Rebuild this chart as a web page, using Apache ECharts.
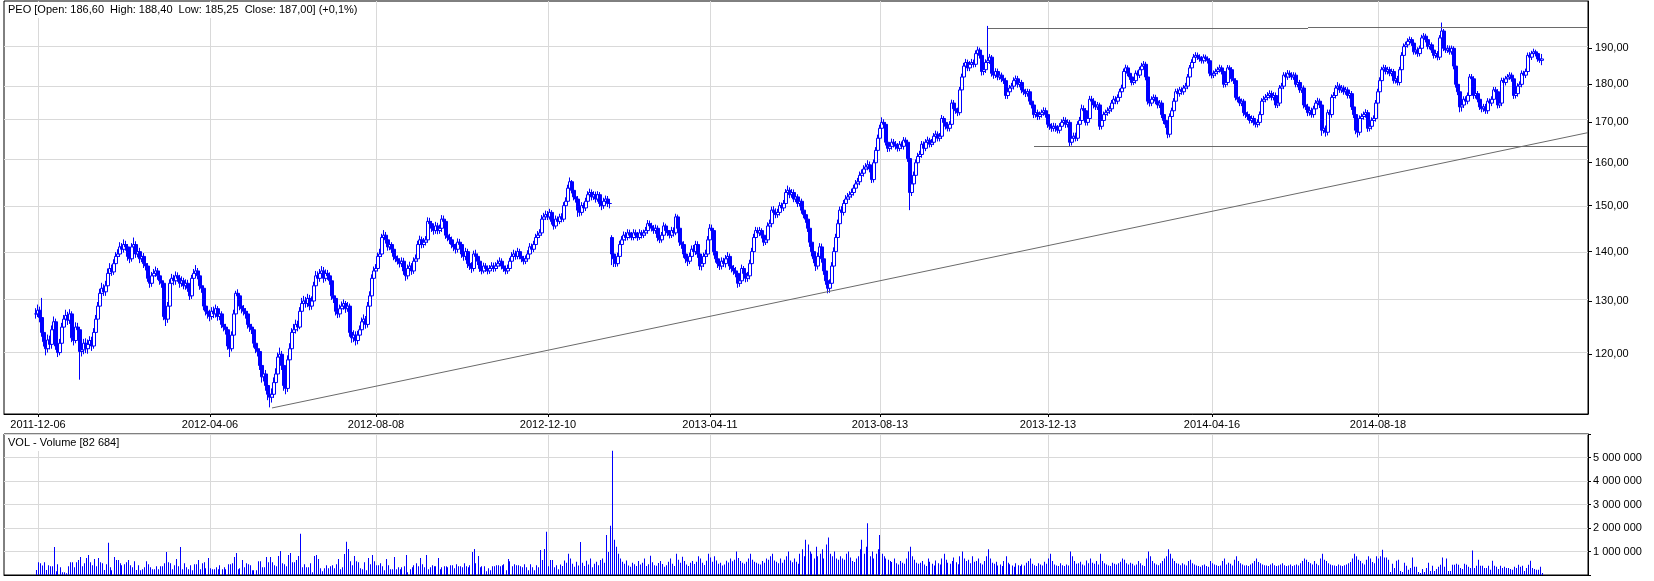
<!DOCTYPE html>
<html>
<head>
<meta charset="utf-8">
<script src="https://cdn.jsdelivr.net/npm/echarts@6/dist/echarts.min.js"></script>
<style>
  html, body { margin: 0; padding: 0; background: #fff; }
  #chart { width: 1654px; height: 581px; }
</style>
</head>
<body>
<div id="chart"></div>
<script>
// x axis: one slot per trading day, plus empty slots at both ends
const slotCount = 793;
const firstIndex = 16;
const tickIndex = [17, 103, 186, 272, 353, 438, 522, 604, 687];
const tickLabels = ['2011-12-06', '2012-04-06', '2012-08-08', '2012-12-10', '2013-04-11',
                    '2013-08-13', '2013-12-13', '2014-04-16', '2014-08-18'];

// price axis (log scale) and volume axis
const priceMin = 109.7;
const priceMax = 204.0;
const priceTicks = [120, 130, 140, 150, 160, 170, 180, 190];
const volumeMax = 6000000;

// daily closes (first day at firstIndex)
const closes = [
  127.5, 128.2, 126.8, 124.0, 122.3, 121.0, 122.6, 121.8, 124.5, 126.0,
  121.5, 120.3, 122.0, 125.0, 126.5, 127.2, 126.3, 127.5, 123.0, 122.5,
  125.0, 124.5, 120.5, 120.8, 122.0, 121.0, 121.8, 122.5, 121.5, 124.0,
  126.5, 129.0, 131.5, 132.5, 131.8, 133.0, 135.5, 136.5, 135.8, 137.5,
  139.0, 139.5, 141.0, 140.5, 141.5, 141.0, 139.0, 138.5, 141.0, 141.5,
  139.5, 140.0, 138.5, 139.0, 137.5, 137.0, 134.5, 133.5, 135.0, 135.5,
  136.0, 135.0, 134.0, 133.5, 127.0, 126.5, 129.0, 133.5, 134.5, 134.0,
  135.0, 134.5, 133.5, 134.0, 133.0, 133.5, 132.5, 131.0, 134.5, 135.5,
  136.0, 135.0, 133.0, 132.5, 129.0, 128.0, 127.5, 127.0, 128.0, 127.5,
  128.5, 127.0, 127.5, 125.5, 125.0, 124.5, 121.5, 121.0, 123.5, 127.5,
  131.5, 131.0, 129.0, 128.5, 128.0, 127.5, 125.5, 125.0, 124.5, 122.0,
  121.0, 120.5, 118.0, 116.0, 116.5, 114.5, 113.0, 112.5, 113.0, 115.0,
  116.5, 119.5, 120.0, 118.0, 114.5, 114.0, 119.0, 121.0, 124.0, 124.5,
  125.5, 125.0, 128.0, 129.5, 130.0, 129.5, 130.5, 129.0, 130.0, 133.0,
  135.0, 134.5, 135.5, 136.0, 134.5, 135.5, 135.0, 134.0, 131.0, 130.5,
  128.0, 127.5, 128.5, 129.0, 129.5, 128.5, 129.0, 124.0, 123.0, 123.5,
  122.5, 123.5, 124.5, 126.0, 126.5, 125.5, 129.0, 131.0, 134.5, 136.0,
  136.5, 139.0, 139.5, 143.0, 143.5, 142.5, 141.0, 141.5, 140.5, 139.0,
  138.5, 138.0, 137.5, 138.0, 136.0, 135.0, 136.5, 137.0, 136.0, 138.0,
  138.5, 141.5, 142.5, 141.5, 142.0, 142.5, 146.5, 146.0, 145.0, 144.5,
  145.5, 144.5, 145.0, 147.0, 146.5, 143.5, 143.0, 142.5, 141.5, 141.0,
  140.5, 142.0, 141.5, 139.5, 139.0, 140.0, 137.5, 137.0, 136.5, 139.5,
  139.0, 138.0, 136.5, 136.0, 137.0, 136.5, 136.0, 136.5, 137.0, 136.5,
  137.0, 137.5, 138.0, 137.0, 136.5, 136.0, 136.5, 138.0, 139.0, 139.5,
  139.0, 140.0, 139.0, 138.5, 138.0, 138.5, 139.5, 141.0, 140.5, 141.5,
  143.0, 143.5, 144.0, 147.0, 147.5, 148.0, 147.5, 148.5, 146.5, 145.5,
  147.0, 146.5, 147.5, 147.0, 150.0, 151.0, 154.0, 155.5, 153.5, 152.0,
  151.5, 149.0, 148.5, 150.0, 149.5, 151.0, 152.5, 153.0, 152.0, 152.5,
  151.5, 152.5, 150.5, 150.0, 151.0, 151.5, 150.5, 150.5, 139.5, 138.5,
  137.5, 139.0, 141.5, 142.5, 143.5, 143.0, 144.0, 143.5, 143.0, 144.0,
  143.5, 143.0, 144.0, 143.5, 144.0, 144.5, 146.0, 145.5, 145.0, 144.5,
  145.0, 143.0, 142.5, 143.5, 145.5, 144.5, 144.0, 143.5, 144.5, 144.0,
  147.5, 145.0, 142.0, 141.5, 139.5, 138.5, 138.0, 139.0, 140.5, 140.0,
  141.5, 139.5, 137.0, 137.5, 139.0, 139.5, 142.5, 145.0, 144.5, 140.0,
  138.5, 137.5, 137.0, 138.0, 137.5, 138.5, 139.0, 137.0, 136.5, 136.0,
  135.5, 133.5, 134.0, 136.5, 135.5, 134.5, 135.0, 137.5, 140.0, 143.0,
  144.5, 144.0, 144.5, 143.5, 142.0, 142.5, 145.5, 146.0, 149.0, 148.5,
  148.0, 148.5, 150.0, 149.5, 150.5, 153.0, 153.5, 152.5, 153.0, 151.5,
  152.0, 150.5, 151.0, 149.0, 148.0, 147.0, 145.0, 142.0, 140.0, 138.5,
  137.0, 139.0, 141.0, 138.5, 136.0, 134.0, 132.5, 133.5, 137.0, 140.0,
  143.0, 146.0, 149.0, 148.5, 150.5, 151.5, 152.0, 152.5, 153.0, 154.0,
  155.0, 155.5, 157.0, 157.5, 158.5, 159.0, 159.5, 158.5, 156.0, 160.0,
  163.0, 166.0, 168.5, 170.0, 169.5, 165.0, 163.5, 164.0, 165.0, 164.5,
  164.0, 163.5, 164.5, 164.0, 165.5, 165.0, 161.0, 153.0, 155.0, 157.0,
  160.0, 161.5, 162.0, 164.5, 163.5, 165.0, 165.5, 164.5, 165.0, 166.5,
  167.0, 166.0, 166.5, 171.0, 170.0, 169.0, 168.5, 169.5, 175.0, 173.5,
  173.0, 172.5, 178.5, 182.0, 185.0, 186.0, 184.5, 185.5, 186.0, 185.5,
  188.5, 189.5, 188.0, 183.5, 184.0, 186.0, 186.5, 187.5, 183.0, 182.5,
  183.5, 182.0, 182.5, 181.5, 181.0, 177.0, 178.0, 179.0, 179.5, 181.0,
  181.5, 180.0, 180.5, 178.5, 178.0, 177.5, 178.0, 175.5, 174.5, 172.0,
  172.5, 171.5, 172.0, 172.5, 173.0, 172.0, 169.5, 169.0, 168.5, 169.0,
  168.5, 168.0, 169.0, 170.0, 170.5, 169.5, 170.0, 165.0, 166.0, 166.5,
  166.0, 169.5, 170.5, 173.5, 173.0, 170.0, 171.0, 176.0, 175.5, 174.5,
  174.0, 174.5, 169.0, 170.5, 172.0, 172.5, 173.0, 173.5, 175.0, 176.0,
  175.5, 176.5, 178.0, 179.0, 183.5, 184.5, 183.0, 182.0, 180.5, 181.0,
  183.0, 182.5, 184.0, 185.0, 185.5, 182.0, 175.5, 175.0, 176.0, 176.5,
  175.5, 174.5, 175.0, 172.0, 170.5, 169.5, 167.0, 171.5, 173.0, 175.5,
  178.0, 177.5, 178.5, 178.0, 179.0, 179.5, 182.0, 184.5, 186.0, 187.5,
  188.0, 187.5, 187.0, 186.5, 187.5, 187.0, 186.5, 183.0, 182.5, 183.0,
  183.5, 184.0, 184.5, 183.5, 180.0, 180.5, 184.5, 184.0, 181.5, 181.0,
  176.5, 176.0, 175.0, 175.5, 172.5, 172.0, 171.5, 170.5, 171.0, 170.0,
  169.5, 170.0, 172.0, 175.5, 176.0, 176.5, 177.0, 177.5, 176.5, 177.0,
  174.5, 175.0, 179.0, 179.5, 182.5, 182.0, 183.0, 182.5, 182.0, 182.5,
  180.0, 180.5, 178.5, 179.0, 174.5, 174.0, 172.5, 173.0, 172.0, 173.5,
  175.0, 175.5, 174.5, 168.0, 168.5, 167.5, 172.5, 172.0, 176.5, 177.0,
  179.0, 179.5, 178.5, 179.0, 178.0, 178.5, 177.0, 177.5, 174.0, 172.0,
  168.0, 167.5, 171.0, 171.5, 172.0, 172.5, 168.5, 169.0, 170.5, 171.0,
  175.0, 178.0, 181.0, 184.0, 184.5, 183.5, 184.0, 183.0, 183.5, 181.0,
  181.5, 180.5, 184.0, 188.0, 190.5, 191.0, 192.0, 192.5, 191.5, 189.0,
  189.5, 188.5, 190.0, 193.0, 193.5, 192.5, 190.5, 191.0, 189.5, 188.0,
  188.5, 187.5, 193.0, 195.0, 190.0, 189.5, 190.0, 189.0, 190.0, 185.0,
  180.0, 178.0, 174.0, 174.5, 176.0, 175.5, 177.0, 182.0, 181.5, 177.0,
  177.5, 176.0, 174.0, 173.5, 174.0, 173.0, 175.5, 175.0, 176.0, 178.5,
  178.0, 174.5, 175.0, 181.0, 180.5, 181.5, 182.0, 182.5, 181.5, 177.0,
  177.5, 179.5, 180.0, 183.0, 182.5, 183.5, 188.0, 187.5, 188.5, 189.0,
  188.5, 187.0, 186.6, 187.0
];

// daily highs and lows
const highs = [
  128.6, 129.3, 128.9, 130.6, 124.8, 123.2, 123.6, 123.4, 125.3, 127.0,
  126.6, 122.4, 122.8, 125.8, 127.3, 128.3, 127.9, 128.4, 128.0, 124.0,
  125.9, 125.8, 125.0, 121.7, 122.8, 122.9, 122.7, 123.3, 123.2, 124.8,
  127.3, 129.8, 132.4, 133.6, 133.3, 134.0, 136.5, 137.6, 137.3, 138.4,
  139.9, 140.5, 142.0, 141.8, 142.6, 142.3, 141.6, 139.6, 141.8, 143.0,
  142.2, 140.9, 140.8, 139.8, 139.7, 138.4, 137.6, 135.3, 135.8, 136.4,
  136.9, 136.6, 135.8, 134.8, 134.0, 128.0, 129.8, 134.3, 135.4, 135.2,
  135.9, 135.7, 135.2, 134.9, 134.6, 134.3, 134.2, 133.0, 135.2, 136.4,
  137.2, 136.6, 135.6, 133.7, 133.0, 129.8, 128.9, 128.3, 128.8, 128.9,
  129.3, 129.0, 128.2, 128.0, 126.3, 125.6, 125.0, 122.2, 124.2, 128.3,
  132.0, 132.3, 131.4, 129.6, 129.2, 128.6, 128.0, 126.2, 125.6, 124.9,
  122.6, 121.8, 121.0, 118.6, 117.4, 117.2, 115.2, 113.8, 114.0, 115.9,
  117.5, 120.3, 121.2, 120.6, 118.6, 115.2, 119.8, 122.0, 124.8, 125.6,
  126.4, 126.2, 128.8, 130.6, 131.0, 130.8, 131.4, 131.2, 130.9, 133.8,
  136.0, 135.9, 136.4, 137.0, 136.8, 136.3, 136.2, 135.7, 134.6, 131.8,
  131.0, 128.8, 129.3, 129.9, 130.3, 130.0, 129.8, 129.5, 124.8, 124.4,
  124.2, 124.3, 125.3, 126.8, 127.4, 127.1, 129.8, 131.9, 135.3, 136.9,
  137.4, 139.8, 140.6, 143.8, 144.6, 144.2, 142.9, 142.4, 142.0, 141.2,
  139.7, 139.2, 138.6, 138.8, 138.7, 136.8, 137.3, 137.9, 137.6, 138.8,
  139.4, 142.3, 143.4, 143.2, 142.9, 143.3, 147.4, 147.3, 146.6, 145.8,
  146.4, 146.2, 145.8, 147.9, 147.8, 147.0, 144.2, 143.8, 143.2, 142.2,
  141.7, 142.8, 142.7, 141.9, 140.2, 140.8, 140.6, 138.3, 137.8, 140.2,
  140.4, 139.6, 138.6, 137.2, 137.7, 137.6, 137.1, 137.2, 137.8, 137.7,
  137.8, 138.3, 138.8, 138.6, 137.6, 137.1, 137.3, 138.7, 139.9, 140.4,
  140.2, 140.8, 140.6, 139.6, 139.1, 139.2, 140.3, 141.8, 141.7, 142.3,
  143.8, 144.4, 144.8, 147.9, 148.4, 148.9, 148.8, 149.3, 149.0, 147.0,
  147.8, 147.6, 148.2, 148.3, 150.8, 151.9, 154.8, 156.5, 155.9, 154.2,
  152.8, 152.2, 149.8, 150.8, 150.7, 151.8, 153.3, 153.9, 153.7, 153.3,
  153.2, 153.3, 153.1, 151.2, 151.8, 152.3, 152.2, 151.4, 143.5, 140.4,
  139.2, 139.8, 142.3, 143.3, 144.3, 144.2, 144.8, 144.7, 144.2, 144.8,
  144.7, 144.2, 144.8, 144.6, 144.7, 145.3, 146.8, 146.7, 146.2, 145.7,
  145.8, 145.6, 143.7, 144.2, 146.3, 146.0, 145.2, 144.6, 145.3, 145.2,
  148.2, 148.0, 145.6, 142.7, 142.2, 140.2, 139.3, 139.8, 141.3, 141.4,
  142.3, 142.2, 140.0, 138.3, 139.8, 140.4, 143.3, 145.9, 145.8, 145.0,
  140.8, 139.3, 138.3, 138.8, 138.7, 139.3, 139.9, 139.6, 137.7, 137.2,
  136.8, 136.0, 134.8, 137.3, 137.0, 136.2, 135.8, 138.3, 140.8, 143.8,
  145.3, 145.2, 145.3, 145.0, 144.0, 143.3, 146.3, 146.9, 149.8, 149.9,
  149.4, 149.3, 150.8, 150.7, 151.3, 153.8, 154.6, 154.2, 153.8, 153.7,
  152.8, 152.6, 151.8, 151.6, 149.7, 148.8, 147.7, 145.6, 142.8, 140.8,
  139.3, 139.8, 141.8, 141.7, 139.2, 136.8, 134.7, 134.3, 137.8, 140.9,
  143.8, 146.9, 149.8, 149.9, 151.3, 152.4, 152.9, 153.3, 153.9, 154.8,
  155.9, 156.4, 157.9, 158.4, 159.4, 159.9, 160.6, 160.3, 159.2, 160.8,
  163.8, 166.9, 169.4, 171.3, 170.8, 170.0, 165.8, 164.9, 165.9, 165.8,
  165.3, 164.8, 165.3, 165.2, 166.3, 166.2, 165.6, 161.8, 156.0, 157.9,
  160.8, 162.4, 162.9, 165.3, 165.2, 165.8, 166.4, 166.1, 165.8, 167.3,
  167.9, 167.7, 167.3, 171.9, 171.6, 170.8, 169.7, 170.3, 175.9, 175.8,
  174.4, 173.8, 179.3, 182.9, 185.9, 187.0, 186.8, 186.4, 187.0, 186.8,
  189.4, 190.5, 190.2, 188.7, 184.9, 186.9, 196.5, 188.4, 188.1, 183.8,
  184.4, 184.3, 183.3, 183.2, 182.3, 181.8, 178.9, 179.8, 180.4, 181.9,
  182.4, 182.3, 181.3, 181.2, 179.3, 178.8, 178.8, 178.7, 176.3, 175.2,
  173.4, 173.3, 172.8, 173.3, 173.9, 173.8, 172.7, 170.2, 169.8, 169.9,
  169.8, 169.3, 169.8, 170.8, 171.4, 171.3, 170.8, 170.6, 166.8, 167.4,
  167.4, 170.3, 171.4, 174.6, 174.4, 173.7, 171.8, 176.9, 176.9, 176.3,
  175.3, 175.3, 175.1, 171.3, 172.8, 173.3, 173.9, 174.3, 175.8, 176.9,
  176.8, 177.3, 178.8, 179.9, 184.3, 185.4, 185.2, 183.7, 182.7, 181.8,
  183.8, 183.8, 184.8, 185.9, 186.4, 186.2, 182.6, 176.3, 176.8, 177.3,
  177.2, 176.3, 175.8, 175.7, 172.8, 171.3, 170.2, 172.3, 173.8, 176.3,
  178.8, 178.9, 179.3, 179.2, 179.8, 180.4, 182.8, 185.3, 186.9, 188.4,
  188.9, 188.8, 188.3, 187.8, 188.3, 188.2, 187.7, 187.2, 183.8, 183.8,
  184.3, 184.8, 185.4, 185.2, 184.2, 181.3, 185.3, 185.2, 184.7, 182.3,
  181.6, 177.3, 176.8, 176.2, 176.1, 173.3, 172.8, 172.2, 171.8, 171.7,
  170.7, 170.8, 172.8, 176.3, 176.9, 177.4, 177.9, 178.4, 178.3, 177.9,
  177.8, 175.8, 179.8, 180.4, 183.3, 183.3, 183.9, 183.8, 183.3, 183.3,
  183.2, 181.3, 181.2, 179.8, 179.7, 175.3, 174.8, 173.8, 173.8, 174.3,
  175.8, 176.4, 176.2, 175.0, 169.3, 169.2, 173.3, 173.3, 177.3, 177.9,
  179.8, 180.6, 180.2, 179.8, 179.7, 179.3, 179.2, 178.3, 178.2, 174.7,
  172.7, 168.8, 171.8, 172.3, 172.8, 173.4, 173.2, 169.8, 171.3, 171.8,
  175.8, 178.8, 181.9, 184.8, 185.4, 185.3, 184.8, 184.8, 184.3, 184.2,
  182.3, 182.3, 184.8, 188.9, 191.4, 191.9, 192.9, 193.4, 193.2, 192.1,
  190.4, 190.3, 190.8, 193.9, 194.4, 194.2, 193.1, 191.8, 191.7, 190.1,
  189.3, 189.2, 193.8, 197.5, 195.6, 190.8, 190.9, 190.8, 190.8, 190.6,
  185.6, 180.8, 178.7, 175.3, 176.8, 176.8, 177.8, 182.8, 182.8, 182.2,
  178.3, 178.2, 176.7, 174.7, 174.8, 174.8, 176.3, 176.2, 176.8, 179.3,
  179.3, 178.7, 175.8, 181.8, 181.8, 182.3, 182.8, 183.3, 183.2, 182.2,
  178.3, 180.3, 180.8, 183.8, 183.7, 184.3, 188.8, 188.9, 189.3, 189.9,
  189.6, 188.8, 187.5, 188.4
];
const lows = [
  126.6, 126.9, 125.9, 123.2, 121.4, 119.8, 120.3, 120.9, 121.0, 123.8,
  120.8, 119.5, 119.8, 121.4, 124.2, 125.7, 125.4, 125.6, 122.2, 121.6,
  122.0, 123.6, 115.5, 119.6, 120.0, 120.2, 120.1, 121.0, 120.6, 121.0,
  123.5, 125.9, 128.4, 130.8, 131.0, 131.0, 132.4, 134.8, 135.0, 135.2,
  136.8, 138.2, 138.9, 139.7, 139.8, 140.2, 138.1, 137.6, 137.9, 140.3,
  138.7, 138.8, 137.6, 137.8, 136.6, 136.1, 133.8, 132.6, 132.8, 134.3,
  134.8, 134.2, 133.2, 132.6, 126.3, 125.2, 125.8, 128.4, 132.9, 133.1,
  133.2, 133.8, 132.6, 132.8, 132.3, 132.2, 131.8, 130.2, 130.4, 133.8,
  134.9, 134.3, 132.2, 131.6, 128.2, 127.2, 126.6, 126.1, 126.4, 126.7,
  126.8, 126.2, 126.3, 124.8, 124.2, 123.6, 120.8, 119.5, 120.5, 123.0,
  127.0, 130.1, 128.2, 127.6, 127.2, 126.6, 124.7, 124.1, 123.7, 121.2,
  120.2, 119.6, 117.2, 115.0, 115.2, 113.6, 112.0, 110.8, 111.6, 112.4,
  114.3, 115.8, 118.8, 117.2, 113.6, 113.0, 113.4, 118.2, 120.4, 123.2,
  123.8, 124.2, 124.6, 127.3, 128.8, 128.7, 128.8, 128.2, 128.3, 129.4,
  132.4, 133.7, 133.8, 134.8, 133.6, 133.9, 134.2, 133.2, 130.2, 129.6,
  127.2, 126.7, 126.8, 127.8, 128.3, 127.7, 127.9, 123.2, 122.1, 122.2,
  121.6, 121.8, 122.9, 123.8, 125.3, 124.7, 124.9, 128.3, 130.3, 133.7,
  135.3, 135.9, 138.2, 138.9, 142.2, 141.7, 140.2, 140.3, 139.7, 138.2,
  137.8, 137.3, 136.7, 136.8, 135.2, 134.0, 134.3, 135.9, 135.2, 135.4,
  137.3, 137.9, 140.8, 140.7, 140.8, 141.3, 141.9, 145.2, 144.2, 143.6,
  143.8, 143.7, 143.8, 144.2, 145.6, 142.7, 142.2, 141.6, 140.7, 140.1,
  139.6, 139.8, 140.7, 138.7, 138.1, 138.2, 136.6, 136.2, 135.6, 135.9,
  138.2, 137.2, 135.8, 135.3, 135.5, 135.8, 135.3, 135.4, 136.0, 135.8,
  135.9, 136.4, 136.9, 136.3, 135.8, 135.3, 135.4, 136.0, 137.4, 138.4,
  138.3, 138.4, 138.4, 137.8, 137.3, 137.4, 137.9, 138.9, 139.8, 139.9,
  140.9, 142.3, 142.9, 143.4, 146.3, 146.8, 146.8, 146.9, 145.8, 144.7,
  144.9, 145.8, 145.9, 146.3, 146.4, 149.3, 150.3, 153.3, 152.8, 151.2,
  150.7, 147.5, 147.6, 147.8, 148.7, 148.8, 150.3, 151.9, 151.2, 151.3,
  150.7, 150.9, 149.7, 149.0, 149.3, 150.3, 149.7, 149.4, 137.2, 136.8,
  136.8, 136.9, 138.6, 140.8, 141.8, 142.3, 142.4, 142.8, 142.4, 142.4,
  142.8, 142.3, 142.5, 142.8, 142.9, 143.4, 143.8, 144.8, 144.3, 143.8,
  143.8, 142.2, 141.8, 141.9, 142.9, 143.8, 143.3, 142.8, 142.9, 143.2,
  143.5, 144.2, 141.2, 140.6, 138.7, 137.6, 137.0, 137.4, 138.4, 139.2,
  139.3, 138.7, 136.2, 136.1, 136.8, 138.3, 138.9, 141.8, 143.6, 139.2,
  137.7, 136.6, 136.2, 136.3, 136.8, 136.7, 137.8, 136.2, 135.7, 135.2,
  134.7, 132.6, 132.8, 133.4, 134.7, 133.7, 133.8, 134.3, 136.9, 139.2,
  142.3, 143.2, 143.3, 142.8, 141.2, 141.4, 141.8, 144.8, 145.2, 147.7,
  147.2, 147.3, 147.8, 148.7, 148.8, 149.8, 152.2, 151.7, 151.8, 150.8,
  150.8, 149.7, 149.8, 148.2, 147.2, 146.2, 144.2, 141.0, 139.0, 137.6,
  136.0, 136.3, 138.3, 137.7, 135.2, 133.2, 131.5, 131.6, 132.8, 136.4,
  139.3, 142.2, 145.3, 147.7, 147.8, 149.7, 150.8, 151.3, 151.8, 152.3,
  153.2, 154.2, 154.7, 156.2, 156.7, 157.7, 158.2, 157.7, 155.2, 155.3,
  159.4, 162.3, 165.2, 167.8, 168.6, 164.2, 162.6, 162.7, 163.2, 163.7,
  163.2, 162.7, 162.8, 163.3, 163.2, 164.2, 160.2, 149.0, 152.2, 154.2,
  156.3, 159.2, 160.7, 161.2, 162.8, 162.8, 164.2, 163.7, 163.8, 164.3,
  165.7, 165.2, 165.2, 165.8, 169.2, 168.2, 167.7, 167.7, 168.8, 172.7,
  172.2, 171.6, 171.8, 177.7, 181.2, 184.0, 183.6, 183.6, 184.6, 184.6,
  184.7, 187.6, 187.1, 182.4, 182.5, 183.1, 185.2, 185.6, 182.1, 181.5,
  181.7, 181.1, 181.2, 180.6, 180.1, 176.1, 176.1, 177.1, 178.2, 178.6,
  180.1, 179.1, 179.2, 177.6, 177.1, 176.6, 176.7, 174.6, 173.6, 171.1,
  171.2, 170.6, 170.7, 171.2, 171.7, 171.2, 168.6, 168.1, 167.6, 167.7,
  167.6, 167.2, 167.2, 168.2, 169.3, 168.6, 168.7, 164.0, 164.2, 165.2,
  165.2, 165.3, 168.8, 169.8, 172.2, 169.2, 169.2, 170.2, 174.6, 173.6,
  173.2, 173.2, 168.1, 168.2, 169.7, 171.2, 171.7, 172.2, 172.7, 174.2,
  174.7, 174.7, 175.7, 177.2, 178.2, 182.7, 182.2, 181.2, 179.7, 179.8,
  180.2, 181.6, 181.7, 183.2, 184.2, 181.1, 174.6, 174.1, 174.2, 175.2,
  174.7, 173.6, 173.7, 171.1, 169.6, 168.6, 166.0, 166.2, 170.7, 172.2,
  174.7, 176.7, 176.7, 177.2, 177.2, 178.2, 178.7, 181.2, 183.7, 185.2,
  186.7, 186.7, 186.2, 185.7, 185.7, 186.2, 185.7, 182.2, 181.6, 181.7,
  182.2, 182.7, 183.2, 182.7, 179.1, 179.2, 179.7, 183.2, 180.7, 180.1,
  175.7, 175.2, 174.2, 174.2, 171.6, 171.1, 170.6, 169.7, 169.8, 169.2,
  168.7, 168.7, 169.2, 171.2, 174.7, 175.2, 175.7, 176.2, 175.7, 175.7,
  173.7, 173.7, 174.2, 178.2, 178.7, 181.2, 181.2, 181.7, 181.2, 181.2,
  179.2, 179.2, 177.7, 177.7, 173.6, 173.2, 171.6, 171.7, 171.2, 171.2,
  172.7, 174.2, 173.7, 166.6, 167.2, 166.4, 166.7, 171.2, 171.2, 175.7,
  176.2, 178.2, 177.7, 177.7, 177.2, 177.2, 176.2, 176.2, 173.2, 171.1,
  167.0, 166.2, 166.7, 170.2, 170.7, 171.2, 167.6, 167.7, 168.2, 169.7,
  170.2, 174.2, 177.2, 180.2, 183.2, 182.7, 182.7, 182.2, 182.2, 180.2,
  180.2, 179.7, 179.7, 183.2, 187.2, 189.7, 190.2, 191.2, 190.7, 188.2,
  188.2, 187.6, 187.7, 189.2, 192.2, 191.7, 189.7, 189.7, 188.7, 187.1,
  187.2, 186.6, 186.7, 192.2, 189.2, 188.7, 188.7, 188.2, 188.2, 184.1,
  179.1, 177.1, 172.6, 172.8, 173.7, 174.7, 174.7, 176.2, 180.7, 176.1,
  176.2, 175.2, 173.2, 172.6, 172.7, 172.2, 172.2, 174.2, 174.2, 175.2,
  177.2, 173.6, 173.7, 174.2, 179.7, 179.7, 180.7, 181.2, 180.7, 176.1,
  176.2, 176.7, 178.7, 179.2, 181.7, 181.7, 182.7, 186.7, 186.7, 187.7,
  187.7, 186.2, 185.9, 185.25
];

// opens that differ from the previous close (price gaps)
const gapOpens = { 304: 143.0 };

// daily volume, thousands of shares
const volumes = [
  216, 547, 504, 403, 547, 216, 418, 374, 374, 1195,
  158, 461, 331, 115, 115, 72, 374, 547, 547, 331,
  547, 634, 763, 374, 504, 720, 850, 547, 418, 677,
  374, 720, 547, 504, 216, 461, 1368, 331, 202, 763,
  634, 634, 504, 418, 461, 547, 634, 418, 331, 590,
  216, 418, 202, 245, 331, 590, 461, 331, 245, 245,
  374, 245, 374, 374, 504, 979, 547, 504, 245, 418,
  677, 374, 1195, 245, 504, 331, 245, 418, 202, 461,
  461, 634, 245, 504, 547, 288, 720, 288, 245, 245,
  331, 245, 418, 245, 331, 245, 461, 461, 504, 763,
  936, 245, 288, 634, 331, 504, 461, 418, 202, 202,
  202, 590, 590, 331, 331, 763, 547, 763, 547, 418,
  374, 806, 1022, 504, 461, 374, 850, 936, 547, 547,
  634, 806, 1757, 331, 461, 331, 331, 504, 115, 806,
  850, 677, 288, 158, 288, 418, 288, 374, 418, 288,
  461, 677, 245, 331, 893, 1411, 1109, 590, 418, 806,
  590, 547, 288, 245, 547, 202, 720, 461, 850, 590,
  418, 418, 504, 374, 202, 677, 418, 245, 245, 763,
  245, 331, 245, 331, 374, 850, 115, 245, 331, 418,
  504, 374, 720, 461, 331, 850, 245, 331, 418, 374,
  374, 720, 245, 331, 374, 374, 331, 418, 418, 288,
  461, 374, 374, 331, 504, 374, 331, 418, 979, 1109,
  504, 806, 331, 374, 374, 158, 288, 202, 374, 374,
  418, 418, 374, 418, 461, 202, 677, 590, 374, 461,
  418, 418, 374, 331, 461, 331, 202, 461, 331, 202,
  418, 331, 1066, 634, 1109, 1843, 374, 634, 634, 331,
  418, 245,
  450, 380, 620, 520, 900, 700, 480, 350, 560, 400,
  1400, 520, 380, 610, 450, 700, 330, 480, 560, 420,
  640, 700, 520, 1700, 980, 2100, 5290, 1500, 1200, 900,
  700, 560, 480, 620, 400, 350, 520, 460, 380, 600,
  450, 520, 700, 380, 460, 820, 540, 420, 390, 510,
  600, 470, 350, 420, 560, 700, 480, 380, 900, 650,
  520, 780, 600, 450, 380, 520, 600, 470, 560, 800,
  700, 520, 430, 610, 900, 750, 560, 800, 620, 480,
  520, 400, 450, 610, 530, 700, 580, 650, 1000, 720,
  600, 520, 480, 560, 700, 900, 650, 560, 520, 480,
  450, 600, 520, 700, 650, 800, 900, 620, 560, 500,
  700, 520, 650, 800, 1000, 620, 540, 700, 560, 480,
  900, 1100, 800, 1500, 1300, 1000, 900, 700, 1200, 800,
  900, 1100, 700, 1300, 1600, 900, 800, 1000, 700, 650,
  800, 700, 650, 900, 1000, 750, 600, 550, 700, 800,
  1100, 1500, 900, 1200, 2200, 800, 1000, 700, 900, 1100,
  1700, 900, 800, 700, 650, 600, 550, 700, 500, 450,
  600, 520, 480, 700, 1000, 1200, 800, 650, 520, 480,
  520, 600, 450, 380, 700, 560, 480, 400, 620, 500,
  450, 700, 900, 650, 520, 480, 600, 750, 540, 460,
  800, 1000, 700, 600, 650, 500, 800, 560, 600, 700,
  500, 450, 600, 800, 1100, 700, 520, 480, 560, 400,
  450, 380, 600, 800, 520, 460, 400, 350, 500, 420,
  380, 450, 400, 520, 600, 700, 480, 420, 380, 500,
  450, 400, 560, 480, 700, 900, 600, 450, 400, 380,
  500, 420, 380, 450, 400, 1000, 800, 600, 480, 500,
  560, 450, 400, 620, 500, 700, 520, 480, 600, 450,
  900, 600, 500, 450, 400, 380, 520, 480, 450, 500,
  560, 700, 650, 500, 450, 520, 480, 400, 450, 600,
  500, 420, 380, 700, 1000, 800, 600, 500, 450, 420,
  500, 600, 700, 800, 1100, 900, 700, 600, 500, 480,
  420, 500, 450, 400, 600, 650, 500, 450, 400, 380,
  350, 420, 450, 380, 350, 600, 500, 450, 420, 380,
  400, 600, 700, 450, 520, 480, 400, 650, 800, 600,
  500, 450, 400, 420, 380, 450, 500, 600, 700, 550,
  500, 450, 420, 400, 380, 450, 500, 420, 380, 400,
  450, 500, 420, 380, 400, 450, 380, 420, 450, 400,
  500, 600, 700, 650, 550, 500, 450, 600, 480, 420,
  700, 900, 650, 600, 500, 450, 420, 400, 380, 450,
  400, 380, 420, 450, 500, 550, 700, 900, 800, 650,
  600, 500, 450, 650, 800, 700, 550, 500, 800, 700,
  800,
  1070, 740, 740, 650, 130, 480, 300, 610, 650, 170,
  130, 520, 390, 220, 300, 740, 350, 350, 130, 90,
  260, 130, 300, 520, 170, 390, 170, 260, 350, 435,
  740, 350, 700, 170, 170, 435, 435, 480, 435, 300,
  260, 480, 435, 350, 300, 1040, 300, 390, 650, 390,
  390, 300, 300, 390, 220, 610, 390, 350, 260, 390,
  300, 350, 300, 300, 260, 220, 350, 300, 435, 350,
  390, 170, 300, 435, 610, 300, 260, 220, 220, 350,
  90
];

// hand-drawn support / resistance lines: [fromIndex, fromPrice, toIndex, toPrice]
const trendLines = [
  [134, 110.7, 792, 167.4],
  [492, 195.8, 652, 195.7],
  [652, 196.2, 792, 196.2],
  [515, 164.0, 792, 164.0]
];

const ln = Math.log;
const gridColor = '#d9d9d9';
const blue = '#0000ff';
const font = "'Liberation Sans', Arial, sans-serif";

let categories = [];
for (let i = 0; i < slotCount; i++) {
  let t = tickIndex.indexOf(i);
  categories.push(t >= 0 ? tickLabels[t] : '');
}
const isTick = function (i) { return tickIndex.indexOf(i) >= 0; };

let candleData = [];
for (let i = 0; i < slotCount; i++) candleData.push('-');
let volumeData = [];
for (let k = 0; k < closes.length; k++) {
  let i = firstIndex + k;
  let c = closes[k];
  let o = gapOpens[i] !== undefined ? gapOpens[i] : (k > 0 ? closes[k - 1] : c);
  candleData[i] = [ln(o), ln(c), ln(lows[k]), ln(highs[k])];
  volumeData.push([i, volumes[k] * 1000]);
}

// 1px volume bars snapped to whole pixels so they stay sharp
function renderVolume(params, api) {
  let top = api.coord([api.value(0), api.value(1)]);
  let base = api.coord([api.value(0), 0]);
  return {
    type: 'rect',
    shape: { x: Math.floor(top[0]), y: top[1], width: 1, height: base[1] - top[1] },
    style: { fill: blue }
  };
}

const chart = echarts.init(document.getElementById('chart'));
const option = {
  animation: false,
  textStyle: { fontFamily: font, fontSize: 11, color: '#000' },
  title: [
    {
      text: 'PEO [Open: 186,60  High: 188,40  Low: 185,25  Close: 187,00] (+0,1%)',
      left: 5, top: 2, padding: [2, 3, 3, 3], backgroundColor: '#fff',
      textStyle: { fontFamily: font, fontSize: 11, fontWeight: 'normal', color: '#000' }
    },
    {
      text: 'VOL - Volume [82 684]',
      left: 5, top: 435, padding: [2, 3, 3, 3], backgroundColor: '#fff',
      textStyle: { fontFamily: font, fontSize: 11, fontWeight: 'normal', color: '#000' }
    }
  ],
  grid: [
    { left: 4, top: 1, width: 1584, height: 413, show: true, borderColor: '#000', borderWidth: 1 },
    { left: 4, top: 434, width: 1584, height: 141, show: true, borderColor: '#000', borderWidth: 1 }
  ],
  xAxis: [
    {
      type: 'category', gridIndex: 0, data: categories, boundaryGap: false,
      axisLine: { lineStyle: { color: '#000' } },
      axisTick: { interval: isTick, length: 3, lineStyle: { color: '#000' } },
      axisLabel: { interval: isTick, color: '#000', fontSize: 11, fontFamily: font, margin: 5 },
      splitLine: { show: true, interval: isTick, lineStyle: { color: gridColor } }
    },
    {
      type: 'category', gridIndex: 1, data: categories, boundaryGap: false,
      axisLine: { lineStyle: { color: '#000' } },
      axisTick: { show: false },
      axisLabel: { show: false },
      splitLine: { show: true, interval: isTick, lineStyle: { color: gridColor } }
    }
  ],
  yAxis: [
    {
      type: 'value', gridIndex: 0, position: 'right',
      min: ln(priceMin), max: ln(priceMax),
      axisLine: { show: true, lineStyle: { color: '#000' } },
      axisTick: { show: true, length: 4, customValues: priceTicks.map(ln), lineStyle: { color: '#000' } },
      axisLabel: {
        customValues: priceTicks.map(ln), margin: 7, color: '#000', fontSize: 11, fontFamily: font,
        formatter: function (v) { return Math.round(Math.exp(v)) + ',00'; }
      },
      splitLine: { show: false }
    },
    {
      type: 'value', gridIndex: 1, position: 'right',
      min: 0, max: volumeMax, interval: 1000000,
      axisLine: { show: true, lineStyle: { color: '#000' } },
      axisTick: { show: true, length: 3, lineStyle: { color: '#000' } },
      axisLabel: {
        margin: 5, color: '#000', fontSize: 11, fontFamily: font,
        formatter: function (v) {
          if (v === 0 || v === volumeMax) return '';
          return (v / 1000000) + ' 000 000';
        }
      },
      splitLine: { show: true, lineStyle: { color: gridColor } }
    }
  ],
  series: [
    {
      name: 'grid', type: 'line', xAxisIndex: 0, yAxisIndex: 0, data: [],
      markLine: {
        z: 1, silent: true, symbol: 'none', label: { show: false },
        lineStyle: { color: gridColor, type: 'solid', width: 1 },
        data: priceTicks.map(function (p) { return { yAxis: ln(p) }; })
      }
    },
    {
      name: 'PEO', type: 'candlestick', xAxisIndex: 0, yAxisIndex: 0,
      data: candleData, large: false, barWidth: 3, z: 3,
      itemStyle: { color: '#fff', color0: blue, borderColor: blue, borderColor0: blue, borderWidth: 1 }
    },
    {
      name: 'trend', type: 'line', xAxisIndex: 0, yAxisIndex: 0, data: [],
      markLine: {
        z: 5, silent: true, symbol: 'none', label: { show: false },
        lineStyle: { color: '#6a6a6a', type: 'solid', width: 1 },
        data: trendLines.map(function (t) {
          return [{ coord: [t[0], ln(t[1])] }, { coord: [t[2], ln(t[3])] }];
        })
      }
    },
    {
      name: 'VOL', type: 'custom', xAxisIndex: 1, yAxisIndex: 1,
      data: volumeData, renderItem: renderVolume
    }
  ]
};
chart.setOption(option);
</script>
</body>
</html>
